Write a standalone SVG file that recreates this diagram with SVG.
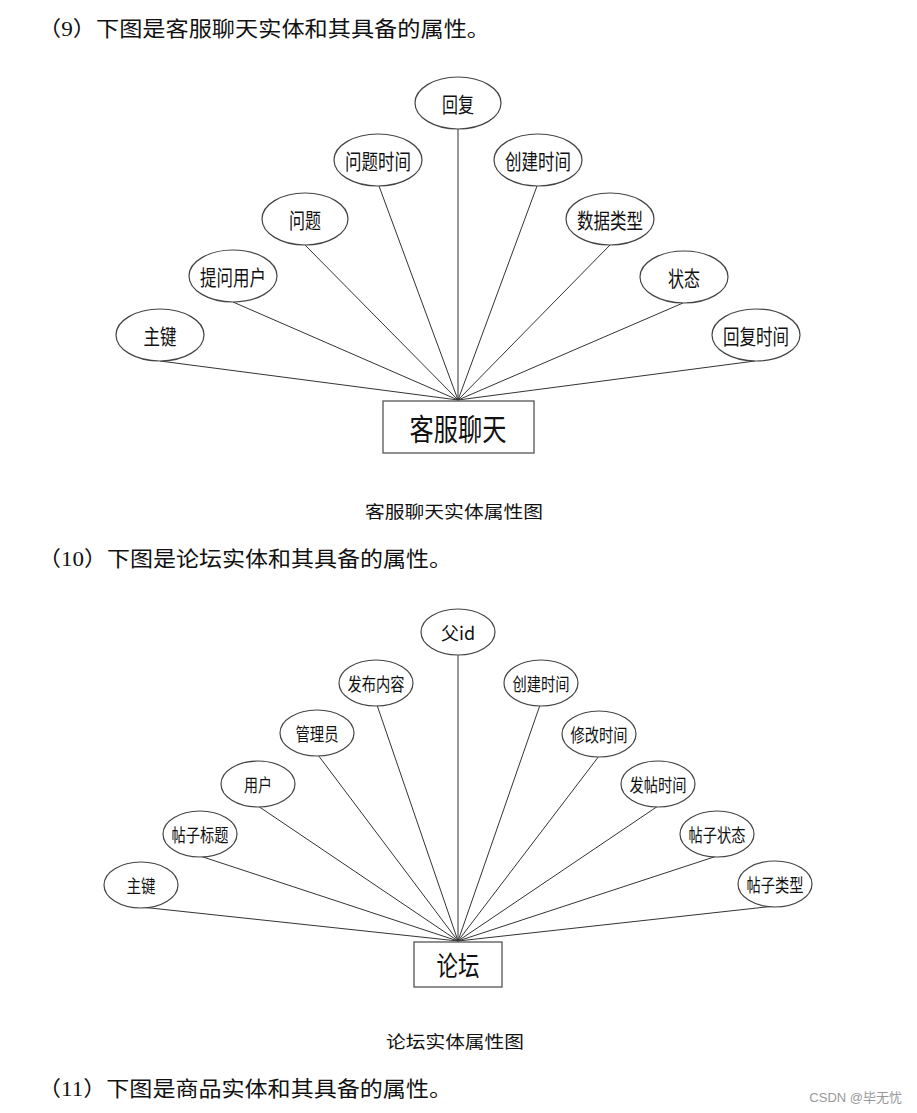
<svg xmlns="http://www.w3.org/2000/svg" width="917" height="1113" viewBox="0 0 917 1113">
<style>
.bg{fill:#fff}
.attr ellipse{fill:#fff;stroke:#444;stroke-width:1.2}
.ent rect{fill:#fff;stroke:#555;stroke-width:1.3}
.lines line{stroke:#333;stroke-width:1}
.t{font-family:"Noto Sans CJK SC","Liberation Sans",sans-serif;fill:#111;text-anchor:middle;dominant-baseline:central}
.h{font-family:"Liberation Serif","Noto Sans CJK SC",serif;fill:#111;font-size:21px}
.cap{font-family:"Liberation Serif","Noto Sans CJK SC",serif;fill:#111;font-size:17px;text-anchor:middle}
.a1{font-size:21px}
.a2{font-size:18px}
</style>
<rect class="bg" x="0" y="0" width="917" height="1113"/>
<text class="h" x="38" y="36" textLength="452" lengthAdjust="spacingAndGlyphs">（9）下图是客服聊天实体和其具备的属性。</text>
<g id="connectors1" class="lines">
<line x1="160" y1="361" x2="458" y2="400"/>
<line x1="233" y1="302" x2="458" y2="400"/>
<line x1="305" y1="245" x2="458" y2="400"/>
<line x1="379" y1="186" x2="458" y2="400"/>
<line x1="458" y1="129" x2="458" y2="400"/>
<line x1="537" y1="186" x2="458" y2="400"/>
<line x1="610" y1="245" x2="458" y2="400"/>
<line x1="683" y1="303" x2="458" y2="400"/>
<line x1="755" y1="361" x2="458" y2="400"/>
</g>
<g id="n1_huifu" class="attr"><ellipse cx="458" cy="103" rx="43" ry="26"/><text class="t a1" x="458" y="103" textLength="32" lengthAdjust="spacingAndGlyphs">回复</text></g>
<g id="n1_wentishijian" class="attr"><ellipse cx="378" cy="160" rx="44" ry="26"/><text class="t a1" x="378" y="160" textLength="66" lengthAdjust="spacingAndGlyphs">问题时间</text></g>
<g id="n1_wenti" class="attr"><ellipse cx="305" cy="219" rx="43" ry="26"/><text class="t a1" x="305" y="219" textLength="32" lengthAdjust="spacingAndGlyphs">问题</text></g>
<g id="n1_tiwenyonghu" class="attr"><ellipse cx="233" cy="276" rx="44" ry="26"/><text class="t a1" x="233" y="276" textLength="66" lengthAdjust="spacingAndGlyphs">提问用户</text></g>
<g id="n1_zhujian" class="attr"><ellipse cx="160" cy="335" rx="44" ry="26"/><text class="t a1" x="160" y="335" textLength="33" lengthAdjust="spacingAndGlyphs">主键</text></g>
<g id="n1_chuangjianshijian" class="attr"><ellipse cx="538" cy="160" rx="44" ry="26"/><text class="t a1" x="538" y="160" textLength="66" lengthAdjust="spacingAndGlyphs">创建时间</text></g>
<g id="n1_shujuleixing" class="attr"><ellipse cx="610" cy="219" rx="44" ry="26"/><text class="t a1" x="610" y="219" textLength="66" lengthAdjust="spacingAndGlyphs">数据类型</text></g>
<g id="n1_zhuangtai" class="attr"><ellipse cx="684" cy="277" rx="44" ry="26"/><text class="t a1" x="684" y="277" textLength="32" lengthAdjust="spacingAndGlyphs">状态</text></g>
<g id="n1_huifushijian" class="attr"><ellipse cx="756" cy="335" rx="44" ry="26"/><text class="t a1" x="756" y="335" textLength="66" lengthAdjust="spacingAndGlyphs">回复时间</text></g>
<g id="e1_kefuliaotian" class="ent"><rect x="383" y="401" width="151" height="52"/><text class="t" style="font-size:30px" x="458" y="427" textLength="97" lengthAdjust="spacingAndGlyphs">客服聊天</text></g>
<text class="cap" x="454" y="518" textLength="178" lengthAdjust="spacingAndGlyphs">客服聊天实体属性图</text>
<text class="h" x="38" y="566" textLength="414" lengthAdjust="spacingAndGlyphs">（10）下图是论坛实体和其具备的属性。</text>
<g id="connectors2" class="lines">
<line x1="141" y1="907" x2="458" y2="941"/>
<line x1="200" y1="856" x2="458" y2="941"/>
<line x1="258" y1="806" x2="458" y2="941"/>
<line x1="318" y1="755" x2="458" y2="941"/>
<line x1="377" y1="705" x2="458" y2="941"/>
<line x1="458" y1="655" x2="458" y2="941"/>
<line x1="540" y1="705" x2="458" y2="941"/>
<line x1="599" y1="756" x2="458" y2="941"/>
<line x1="658" y1="806" x2="458" y2="941"/>
<line x1="717" y1="856" x2="458" y2="941"/>
<line x1="775" y1="906" x2="458" y2="941"/>
</g>
<g id="n2_fuid" class="attr"><ellipse cx="458" cy="632" rx="37" ry="23"/><text class="t a2" x="458" y="632">父id</text></g>
<g id="n2_fabuneirong" class="attr"><ellipse cx="376" cy="683" rx="37" ry="23"/><text class="t a2" x="376" y="683" textLength="57" lengthAdjust="spacingAndGlyphs">发布内容</text></g>
<g id="n2_guanliyuan" class="attr"><ellipse cx="317" cy="733" rx="37" ry="23"/><text class="t a2" x="317" y="733" textLength="43" lengthAdjust="spacingAndGlyphs">管理员</text></g>
<g id="n2_yonghu" class="attr"><ellipse cx="258" cy="784" rx="37" ry="23"/><text class="t a2" x="258" y="784" textLength="28" lengthAdjust="spacingAndGlyphs">用户</text></g>
<g id="n2_tiezibiaoti" class="attr"><ellipse cx="200" cy="834" rx="37" ry="23"/><text class="t a2" x="200" y="834" textLength="57" lengthAdjust="spacingAndGlyphs">帖子标题</text></g>
<g id="n2_zhujian" class="attr"><ellipse cx="141" cy="885" rx="37" ry="23"/><text class="t a2" x="141" y="885" textLength="29" lengthAdjust="spacingAndGlyphs">主键</text></g>
<g id="n2_chuangjianshijian" class="attr"><ellipse cx="541" cy="683" rx="37" ry="23"/><text class="t a2" x="541" y="683" textLength="57" lengthAdjust="spacingAndGlyphs">创建时间</text></g>
<g id="n2_xiugaishijian" class="attr"><ellipse cx="599" cy="734" rx="37" ry="23"/><text class="t a2" x="599" y="734" textLength="57" lengthAdjust="spacingAndGlyphs">修改时间</text></g>
<g id="n2_fatieshijian" class="attr"><ellipse cx="658" cy="784" rx="37" ry="23"/><text class="t a2" x="658" y="784" textLength="57" lengthAdjust="spacingAndGlyphs">发帖时间</text></g>
<g id="n2_tiezizhuangtai" class="attr"><ellipse cx="717" cy="834" rx="37" ry="23"/><text class="t a2" x="717" y="834" textLength="57" lengthAdjust="spacingAndGlyphs">帖子状态</text></g>
<g id="n2_tiezileixing" class="attr"><ellipse cx="775" cy="884" rx="37" ry="23"/><text class="t a2" x="775" y="884" textLength="57" lengthAdjust="spacingAndGlyphs">帖子类型</text></g>
<g id="e2_luntan" class="ent"><rect x="414" y="942" width="88" height="45"/><text class="t" style="font-size:27px" x="458" y="964" textLength="43" lengthAdjust="spacingAndGlyphs">论坛</text></g>
<text class="cap" x="455" y="1048" textLength="138" lengthAdjust="spacingAndGlyphs">论坛实体属性图</text>
<text class="h" x="38" y="1096" textLength="414" lengthAdjust="spacingAndGlyphs">（11）下图是商品实体和其具备的属性。</text>
<text x="902" y="1102" style="font-family:'Liberation Sans','Noto Sans CJK SC',sans-serif;font-size:13px;fill:#999;text-anchor:end">CSDN @毕无忧</text>
</svg>
